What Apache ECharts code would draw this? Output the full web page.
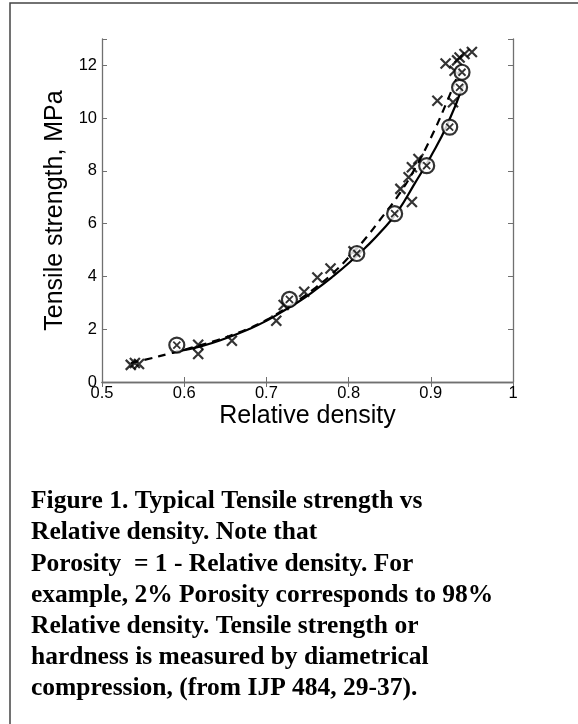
<!DOCTYPE html>
<html>
<head>
<meta charset="utf-8">
<script src="https://cdn.jsdelivr.net/npm/echarts@6/dist/echarts.min.js"></script>
<style>
  html, body { margin: 0; padding: 0; background: #fff; }
  #main { width: 578px; height: 724px; }
</style>
</head>
<body>
<div id="main"></div>
<script>
// measured points (x markers)
let crossX = [0.535, 0.540, 0.545, 0.617, 0.617, 0.658, 0.712, 0.721, 0.746, 0.762, 0.778, 0.806,
  0.863, 0.873, 0.877, 0.885, 0.877, 0.908, 0.927, 0.929, 0.918, 0.932, 0.935, 0.941, 0.950];
let crossY = [0.65, 0.72, 0.68, 1.41, 1.06, 1.56, 2.32, 2.92, 3.42, 3.96, 4.30, 4.95,
  7.32, 7.76, 8.14, 8.45, 6.82, 10.66, 10.60, 11.80, 12.07, 12.19, 12.30, 12.43, 12.51];
// circled points
let circleX = [0.591, 0.728, 0.810, 0.856, 0.895, 0.923, 0.935, 0.938];
let circleY = [1.40, 3.13, 4.87, 6.38, 8.20, 9.66, 11.17, 11.74];
// dashed fit
let dashX = [0.535, 0.56, 0.58, 0.60, 0.62, 0.64, 0.66, 0.68, 0.70, 0.72, 0.74, 0.76, 0.78, 0.80,
  0.82, 0.84, 0.86, 0.88, 0.90, 0.92, 0.935];
let dashY = [0.72, 0.90, 1.06, 1.22, 1.40, 1.58, 1.80, 2.05, 2.35, 2.72, 3.12, 3.58, 4.10, 4.72,
  5.42, 6.22, 7.05, 8.05, 9.25, 10.65, 11.80];
// solid fit
let solidX = [0.59, 0.62, 0.65, 0.68, 0.70, 0.72, 0.74, 0.76, 0.78, 0.80, 0.82, 0.84, 0.86, 0.88,
  0.90, 0.92, 0.94];
let solidY = [1.15, 1.35, 1.65, 2.02, 2.32, 2.68, 3.06, 3.50, 3.98, 4.50, 5.08, 5.72, 6.48, 7.50,
  8.55, 9.75, 11.30];
let xTicks = [0.5, 0.6, 0.7, 0.8, 0.9, 1];
let yTicks = [0, 2, 4, 6, 8, 10, 12];

let caption = [
  'Figure 1. Typical Tensile strength vs',
  'Relative density. Note that',
  'Porosity  = 1 - Relative density. For',
  'example, 2% Porosity corresponds to 98%',
  'Relative density. Tensile strength or',
  'hardness is measured by diametrical',
  'compression, (from IJP 484, 29-37).'
];

function zip(a, b) { return a.map((v, i) => [v, b[i]]); }

let chart = echarts.init(document.getElementById('main'));
let axisColor = '#707070';
let xMark = 'path://M0,0 L10,10 M10,0 L0,10';

let option = {
  animation: false,
  title: {
    text: caption.join('\n'),
    left: 26,
    top: 481,
    textStyle: {
      fontFamily: 'Liberation Serif',
      fontWeight: 'bold',
      fontSize: 25.5,
      lineHeight: 31.2,
      color: '#000'
    }
  },
  graphic: [
    { type: 'polyline', shape: { points: [[10, 724], [10, 3], [578, 3]] },
      style: { stroke: '#444', lineWidth: 1.5, fill: null } }
  ],
  grid: { left: 102, right: 65, top: 39, bottom: 342 },
  xAxis: [
    {
      type: 'value', min: 0.5, max: 1, interval: 0.1,
      name: 'Relative density', nameLocation: 'middle', nameGap: 22,
      nameTextStyle: { fontFamily: 'Liberation Sans', fontSize: 25, color: '#000' },
      axisLine: { lineStyle: { color: axisColor, width: 1.3 } },
      axisTick: { inside: true, length: 5, lineStyle: { color: axisColor } },
      splitLine: { show: false },
      axisLabel: { margin: 3, fontFamily: 'Liberation Sans', fontSize: 16.5, color: '#000',
        formatter: v => xTicks.some(t => Math.abs(t - v) < 1e-6) ? String(+v.toFixed(1)) : '' }
    },
    {
      type: 'value', position: 'top', min: 0.5, max: 1, interval: 0.1,
      axisLine: { lineStyle: { color: axisColor, width: 1.3 } },
      axisTick: { inside: true, length: 5, lineStyle: { color: axisColor } },
      axisLabel: { show: false }, splitLine: { show: false }
    }
  ],
  yAxis: [
    {
      type: 'value', min: 0, max: 13, interval: 2,
      name: 'Tensile strength, MPa', nameLocation: 'middle', nameGap: 28,
      nameTextStyle: { fontFamily: 'Liberation Sans', fontSize: 25, color: '#000' },
      axisLine: { show: true, lineStyle: { color: axisColor, width: 1.3 } },
      axisTick: { show: true, inside: true, length: 5, lineStyle: { color: axisColor } },
      splitLine: { show: false },
      axisLabel: { margin: 5, fontFamily: 'Liberation Sans', fontSize: 16.5, color: '#000',
        formatter: v => yTicks.indexOf(v) >= 0 ? String(v) : '' }
    },
    {
      type: 'value', position: 'right', min: 0, max: 13, interval: 2,
      axisLine: { show: true, lineStyle: { color: axisColor, width: 1.3 } },
      axisTick: { show: true, inside: true, length: 5, lineStyle: { color: axisColor } },
      axisLabel: { show: false }, splitLine: { show: false }
    }
  ],
  series: [
    {
      type: 'line', data: zip(dashX, dashY), smooth: true, symbol: 'none',
      lineStyle: { color: '#000', width: 2.2, type: [8, 6] }, z: 2
    },
    {
      type: 'line', data: zip(solidX, solidY), smooth: true, symbol: 'none',
      lineStyle: { color: '#000', width: 2.2 }, z: 2
    },
    {
      type: 'scatter', data: zip(crossX, crossY), symbol: xMark, symbolSize: 10,
      itemStyle: { color: 'transparent', borderColor: '#000', borderWidth: 2.2 }, z: 3
    },
    {
      type: 'scatter', data: zip(circleX, circleY), symbol: 'circle', symbolSize: 15,
      itemStyle: { color: '#fff', borderColor: '#000', borderWidth: 2.2 }, z: 4
    },
    {
      type: 'scatter', data: zip(circleX, circleY), symbol: xMark, symbolSize: 7,
      itemStyle: { color: 'transparent', borderColor: '#000', borderWidth: 1.8 }, z: 5
    }
  ]
};
chart.setOption(option);
</script>
</body>
</html>
